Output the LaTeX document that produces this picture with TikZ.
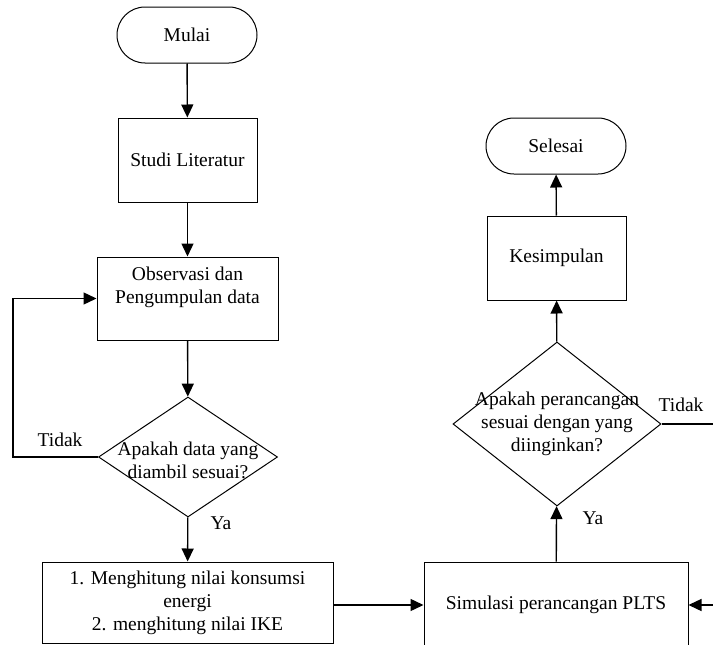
\documentclass[tikz,border=0pt]{standalone}
\usepackage{fontspec}
\newfontfamily\tnr{Liberation Serif}
\usetikzlibrary{shapes.geometric,arrows.meta}
\begin{document}
\begin{tikzpicture}[x=1pt,y=-1pt,
  font=\tnr\fontsize{19.5}{23}\selectfont,
  box/.style={draw,line width=1pt,inner sep=0pt,align=center},
  term/.style={draw,line width=1pt,rounded corners=28pt,minimum width=140pt,minimum height=56pt,inner sep=0pt},
  dec/.style={draw,diamond,line width=1pt,inner sep=0pt},
  conn/.style={line width=1.4pt},
  arr/.style={conn,-{Triangle[length=13pt,width=12pt]}},
  lbl/.style={inner sep=0pt}]
\useasboundingbox (0,0) rectangle (713,645);
\clip (0,0) rectangle (713,645);
% left column
\node[term] (mulai) at (187,35) {Mulai};
\node[box,minimum width=139pt,minimum height=84pt] (studi) at (187.5,160) {Studi Literatur};
\node[box,minimum width=181pt,minimum height=83pt] (obs) at (187.5,298.5) {};
\node[lbl,align=center] (obst) at (187.5,287) {Observasi dan\\Pengumpulan data};
\node[dec,minimum width=179pt,minimum height=120pt] (d1) at (188,457) {};
\node[lbl,align=center] (d1t) at (188,460) {Apakah data yang\\diambil sesuai?};
\node[box,minimum width=291pt,minimum height=81pt] (calc) at (187.5,602.5) {1. Menghitung nilai konsumsi\\energi\\2. menghitung nilai IKE};
% right column
\node[term] (sel) at (556,146) {Selesai};
\node[box,minimum width=139pt,minimum height=84pt] (kes) at (556.5,258) {Kesimpulan};
\node[dec,minimum width=208pt,minimum height=164pt] (d2) at (557,424) {};
\node[lbl,align=center] (d2t) at (557,424) {Apakah perancangan\\sesuai dengan yang\\diinginkan?};
\node[box,minimum width=264pt,minimum height=86pt] (sim) at (556,605) {Simulasi perancangan PLTS};
% labels
\node[lbl] (tidak1) at (60,440) {Tidak};
\node[lbl] (ya1) at (221,523) {Ya};
\node[lbl] (tidak2) at (681,405) {Tidak};
\node[lbl] (ya2) at (593,518) {Ya};
% coordinates
\coordinate (lc1) at (13,457);
\coordinate (lc2) at (13,298.5);
\coordinate (rt) at (713,424);
\coordinate (rin) at (713,605);
% connectors
\draw[arr] (mulai) -- (studi);
\draw[arr] (studi) -- (obs);
\draw[arr] (obs) -- (d1);
\draw[arr] (d1) -- (calc);
\draw[arr] (d1.west) -- (lc1) -- (lc2) -- (obs.west);
\draw[arr] (calc.east |- sim.west) -- (sim.west);
\draw[arr] (rin) -- (sim.east);
\draw[arr] (sim) -- (d2);
\draw[arr] (d2) -- (kes);
\draw[arr] (kes) -- (sel);
\draw[conn] (d2.east) -- (rt);
\end{tikzpicture}
\end{document}
